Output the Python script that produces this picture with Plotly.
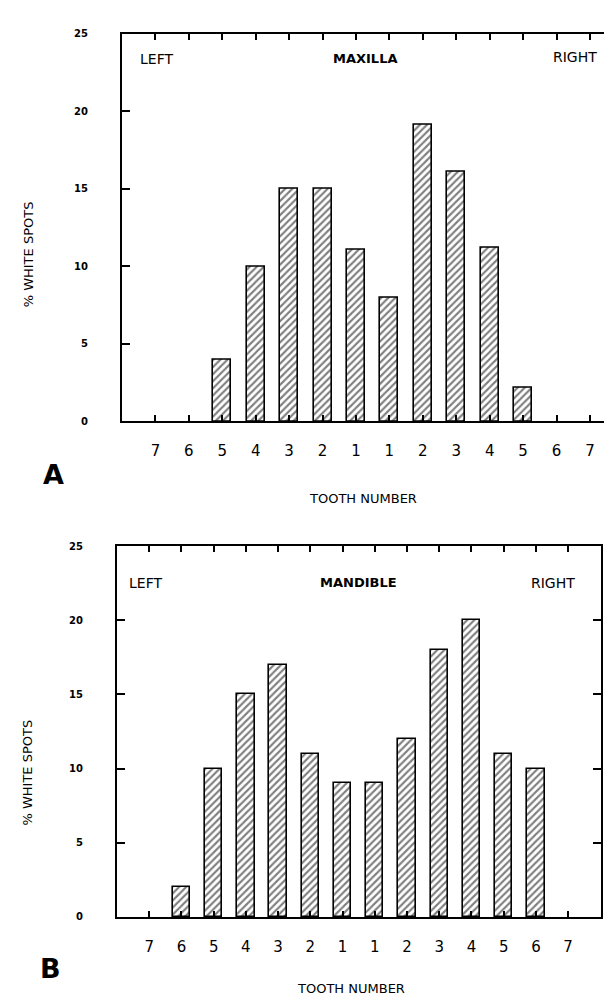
import plotly.graph_objects as go

W, H = 612, 999

# ---- data ----
tooth_labels = ["7", "6", "5", "4", "3", "2", "1", "1", "2", "3", "4", "5", "6", "7"]
positions = list(range(len(tooth_labels)))
maxilla_pct = [0, 0, 4, 10, 15, 15, 11.1, 8, 19.1, 16.1, 11.2, 2.2, 0, 0]
mandible_pct = [0, 2, 10, 15, 17, 11, 9, 9, 12, 18, 20, 11, 10, 0]
y_ticks = [0, 5, 10, 15, 20, 25]

FONT = "DejaVu Sans"

def px(x):
    return x / W

def py(y):
    return 1 - y / H

def visible(values):
    # zero-height bars are not drawn in the original figure
    return [v if v > 0 else None for v in values]

bar_marker = dict(
    color="white",
    line=dict(color="black", width=1.6),
    pattern=dict(shape="/", fgcolor="black", bgcolor="white", size=5, solidity=0.42),
)

fig = go.Figure()
fig.add_trace(go.Bar(x=positions, y=visible(maxilla_pct), width=0.54, marker=bar_marker,
                     xaxis="x", yaxis="y", showlegend=False))
fig.add_trace(go.Bar(x=positions, y=visible(mandible_pct), width=0.54, marker=bar_marker,
                     xaxis="x2", yaxis="y2", showlegend=False))

xcommon = dict(
    tickmode="array", tickvals=positions, ticktext=tooth_labels,
    ticks="inside", ticklen=6, tickwidth=1.5, tickcolor="black",
    showline=True, linecolor="black", linewidth=2, mirror="ticks",
    showgrid=False, zeroline=False,
    tickfont=dict(family=FONT, size=15, color="black"),
    ticklabelstandoff=15,
)
ycommon = dict(
    range=[0, 25], tickmode="array", tickvals=y_ticks,
    ticks="inside", ticklen=8, tickwidth=1.5, tickcolor="black",
    showline=True, linecolor="black", linewidth=2, mirror="ticks",
    showgrid=False, zeroline=False,
    tickfont=dict(family=FONT, size=10, color="black", weight="bold"),
    ticklabelstandoff=30,
)

fig.update_layout(
    width=W, height=H,
    margin=dict(l=0, r=0, t=0, b=0),
    paper_bgcolor="white", plot_bgcolor="white",
    bargap=0,
    xaxis=dict(xcommon, domain=[px(114), px(610)], range=[-1.0, 13.84], anchor="y"),
    yaxis=dict(ycommon, domain=[py(412), py(20)], anchor="x"),
    xaxis2=dict(xcommon, domain=[px(109), px(593)], range=[-1.0, 14.02], anchor="y2"),
    yaxis2=dict(ycommon, domain=[py(913), py(538)], anchor="x2"),
)

def ann(text, x, y, size, bold=False, angle=0):
    fig.add_annotation(
        text=text, x=px(x), y=py(y), xref="paper", yref="paper",
        showarrow=False, textangle=angle, xanchor="center", yanchor="middle",
        font=dict(family=FONT, size=size, color="black", weight="bold" if bold else "normal"),
    )

# panel A texts
ann("LEFT", 148, 45, 14)
ann("MAXILLA", 357, 45, 13, bold=True)
ann("RIGHT", 567, 43, 14)
ann("% WHITE SPOTS", 20, 243, 13, angle=-90)
ann("TOOTH NUMBER", 355, 490, 13)
ann("A", 45, 466, 27, bold=True)

# panel B texts
ann("LEFT", 137, 575, 14)
ann("MANDIBLE", 350, 575, 13, bold=True)
ann("RIGHT", 545, 575, 14)
ann("% WHITE SPOTS", 20, 767, 13, angle=-90)
ann("TOOTH NUMBER", 343, 985, 13)
ann("B", 42, 965, 27, bold=True)

# small extension of the left axis below zero in panel A
fig.add_shape(type="line", xref="x domain", yref="y", x0=0, x1=0, y0=0, y1=-0.7,
              line=dict(color="black", width=2))

fig.write_html("out.html")
